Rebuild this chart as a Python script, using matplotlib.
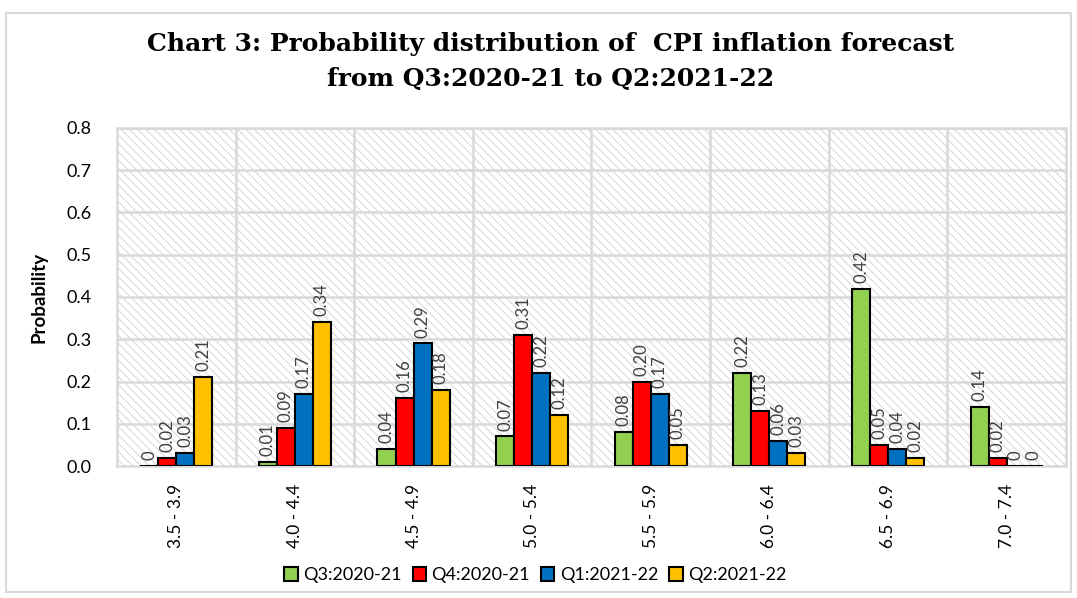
import numpy as np
import matplotlib
matplotlib.use("Agg")
import matplotlib.pyplot as plt
from matplotlib.patches import Rectangle

# categories (inflation ranges) and the four forecast quarters
ranges = ["3.5 - 3.9", "4.0 - 4.4", "4.5 - 4.9", "5.0 - 5.4",
          "5.5 - 5.9", "6.0 - 6.4", "6.5 - 6.9", "7.0 - 7.4"]
q3_2020 = [0.00, 0.01, 0.04, 0.07, 0.08, 0.22, 0.42, 0.14]
q4_2020 = [0.02, 0.09, 0.16, 0.31, 0.20, 0.13, 0.05, 0.02]
q1_2021 = [0.03, 0.17, 0.29, 0.22, 0.17, 0.06, 0.04, 0.00]
q2_2021 = [0.21, 0.34, 0.18, 0.12, 0.05, 0.03, 0.02, 0.00]

series = [("Q3:2020-21", q3_2020, "#92d050"),
          ("Q4:2020-21", q4_2020, "#ff0000"),
          ("Q1:2021-22", q1_2021, "#0070c0"),
          ("Q2:2021-22", q2_2021, "#ffc000")]

plt.rcParams["font.family"] = ["Lato", "DejaVu Sans"]
plt.rcParams["hatch.linewidth"] = 0.7

fig = plt.figure(figsize=(10.77, 5.98), dpi=100)
ax = fig.add_axes([0.1086, 0.2207, 0.8812, 0.5653])

# light hatched plot area like the Excel original
ax.patch.set_facecolor("white")
ax.patch.set_edgecolor("#d6d6d6")
ax.patch.set_hatch("\\\\\\\\")
ax.patch.set_linewidth(0)

x = np.arange(len(ranges))
width = 0.152
for i, (name, vals, col) in enumerate(series):
    pos = x + (i - 1.5) * width
    ax.bar(pos, vals, width, color=col, edgecolor="black", linewidth=1.5,
           label=name, zorder=3)
    for p, v in zip(pos, vals):
        txt = "0" if v == 0 else "%.2f" % v
        ax.text(p, v + 0.014, txt, rotation=90, ha="center", va="bottom",
                fontsize=12, color="#404040", zorder=4)

ax.set_xlim(-0.5, len(ranges) - 0.5)
ax.set_ylim(0, 0.8)
ax.set_yticks(np.arange(0, 0.81, 0.1))
ax.set_yticklabels(["%.1f" % t for t in np.arange(0, 0.81, 0.1)], fontsize=13)
ax.set_xticks(x)
ax.set_xticklabels(ranges, rotation=90, fontsize=12.5)
ax.tick_params(axis="y", length=0, pad=18)
ax.tick_params(axis="x", length=0, pad=13)

# grid: horizontal at each tick, vertical between categories
for y in np.arange(0.1, 0.81, 0.1):
    ax.axhline(y, color="#d9d9d9", linewidth=1.8, zorder=1)
for b in np.arange(0.5, len(ranges) - 0.5, 1):
    ax.axvline(b, color="#d9d9d9", linewidth=1.8, zorder=1)
for s in ax.spines.values():
    s.set_color("#d9d9d9")
    s.set_linewidth(1.8)

ax.set_ylabel("Probability", fontsize=13.5, fontweight="bold", labelpad=14)

fig.text(0.511, 0.927, "Chart 3: Probability distribution of  CPI inflation forecast",
         ha="center", va="center", fontsize=18, fontweight="bold",
         family="DejaVu Serif")
fig.text(0.511, 0.868, "from Q3:2020-21 to Q2:2021-22",
         ha="center", va="center", fontsize=18, fontweight="bold",
         family="DejaVu Serif")

fig.legend(*ax.get_legend_handles_labels(), loc="center",
           bbox_to_anchor=(0.497, 0.038), ncol=4, frameon=False,
           fontsize=13, handlelength=0.75, handleheight=0.75, handletextpad=0.3,
           columnspacing=0.6)

fig.patches.append(Rectangle((0.006, 0.01), 0.988, 0.968, transform=fig.transFigure,
                             fill=False, edgecolor="#d9d9d9", linewidth=1.5))

fig.savefig("out.png", dpi=100)
